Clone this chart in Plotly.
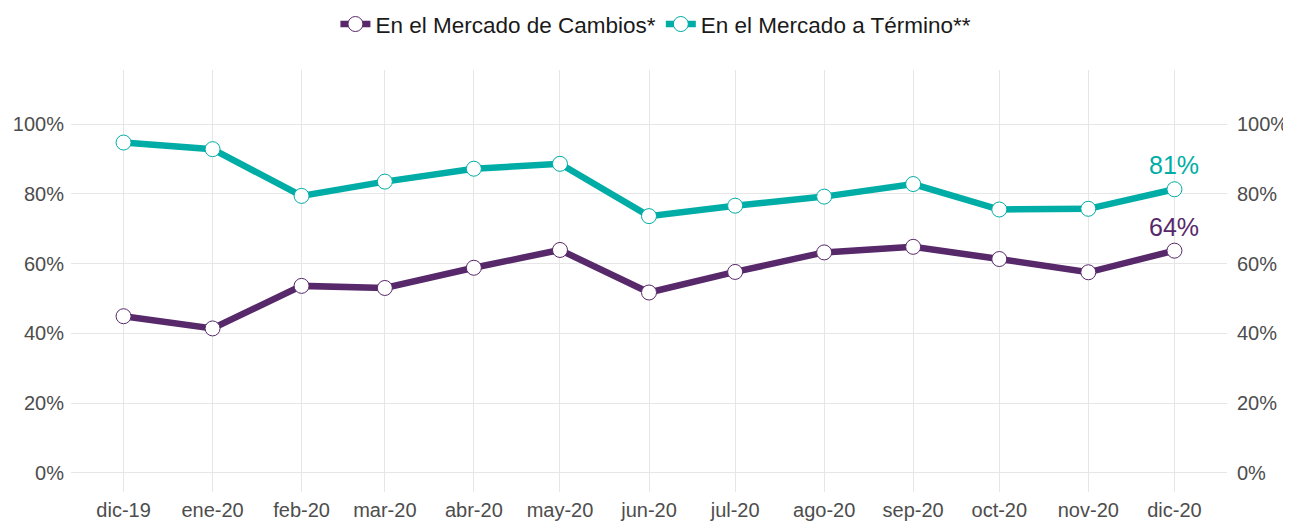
import plotly.graph_objects as go
from datetime import datetime

# Data
month_labels = ["dic-19", "ene-20", "feb-20", "mar-20", "abr-20", "may-20", "jun-20",
                "jul-20", "ago-20", "sep-20", "oct-20", "nov-20", "dic-20"]
month_dates = ["2019-12-01", "2020-01-01", "2020-02-01", "2020-03-01", "2020-04-01",
               "2020-05-01", "2020-06-01", "2020-07-01", "2020-08-01", "2020-09-01",
               "2020-10-01", "2020-11-01", "2020-12-01"]
cambios = [0.449, 0.414, 0.536, 0.530, 0.588, 0.639, 0.517, 0.576, 0.632, 0.648, 0.613, 0.575, 0.637]
termino = [0.947, 0.928, 0.794, 0.835, 0.872, 0.886, 0.736, 0.766, 0.792, 0.828, 0.755, 0.757, 0.813]
y_ticks = [0, 0.2, 0.4, 0.6, 0.8, 1.0]

PURPLE = "#57286A"
TEAL = "#00ADA6"
FONT = "Liberation Sans, Arial"

fig = go.Figure()
for name, vals, col in [("En el Mercado de Cambios*", cambios, PURPLE),
                        ("En el Mercado a Término**", termino, TEAL)]:
    fig.add_trace(go.Scatter(
        x=month_dates, y=vals, name=name, mode="lines+markers",
        line=dict(color=col, width=6.5),
        marker=dict(size=15, color="white", line=dict(color=col, width=1)),
    ))
    fig.add_annotation(
        x=month_dates[-1], y=vals[-1], text=f"{vals[-1]*100:.0f}%",
        showarrow=False, yanchor="bottom", yshift=8,
        font=dict(color=col, size=25, family=FONT),
    )

d0 = datetime.fromisoformat(month_dates[0])
d1 = datetime.fromisoformat(month_dates[-1])
pad = (d1 - d0) * 0.05
x_range = [(d0 - pad).isoformat(), (d1 + pad).isoformat()]
y_range = [-0.055, 1.155]

axis_font = dict(family=FONT, size=20, color="#4D4D4D")
fig.update_layout(
    width=1283, height=516,
    margin=dict(l=63, r=64, t=62, b=32, autoexpand=False),
    plot_bgcolor="white", paper_bgcolor="white",
    font=dict(family=FONT),
    showlegend=True,
    legend=dict(orientation="h", x=0.506, xanchor="center", y=1.159, yanchor="top",
                font=dict(size=22.5, color="#1A1A1A"), itemwidth=30,
                borderwidth=0),
    xaxis=dict(type="date", range=x_range, tickmode="array", tickvals=month_dates,
               ticktext=month_labels, showgrid=True, gridcolor="#E6E6E6", gridwidth=1,
               zeroline=False, showline=False, ticks="", tickfont=axis_font,
               automargin=False, ticklabelstandoff=4),
    yaxis=dict(range=y_range, tickmode="array", tickvals=y_ticks, tickformat=".0%",
               showgrid=True, gridcolor="#E6E6E6", gridwidth=1, zeroline=False,
               ticks="", tickfont=axis_font, automargin=False, ticklabelstandoff=6),
    yaxis2=dict(range=y_range, tickmode="array", tickvals=y_ticks, tickformat=".0%",
                overlaying="y", side="right", showgrid=False, zeroline=False,
                ticks="", tickfont=axis_font, automargin=False, ticklabelstandoff=9),
)
# invisible trace to activate right axis
fig.add_trace(go.Scatter(x=[month_dates[0]], y=[0], yaxis="y2", mode="markers",
                         marker=dict(opacity=0), showlegend=False, hoverinfo="skip"))

fig.write_html("out.html")
